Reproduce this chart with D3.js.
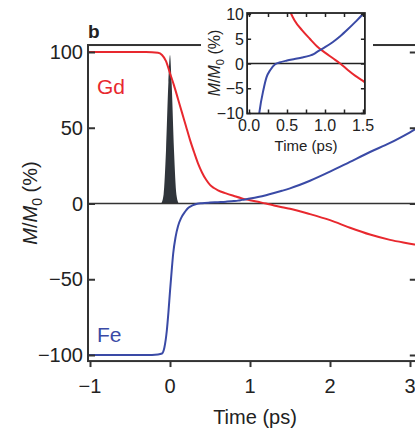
<!DOCTYPE html>
<html>
<head>
<meta charset="utf-8">
<script src="https://cdn.jsdelivr.net/npm/d3@7"></script>
<style>
  body { margin: 0; background: #fff; }
  svg text { font-family: "Liberation Sans", Arial, sans-serif; fill: #222; }
</style>
</head>
<body>
<svg id="chart" width="415" height="432"></svg>
<script>
// Gd sublattice magnetisation (%)
var gdTime = [-1.03, -0.3, -0.15, -0.1, -0.05, 0, 0.05, 0.1, 0.15, 0.2, 0.25, 0.3, 0.35, 0.4, 0.45, 0.5, 0.55, 0.6, 0.7, 0.8, 0.9, 1.0, 1.1, 1.2, 1.3, 1.4, 1.5, 1.75, 2.0, 2.25, 2.5, 2.75, 3.0, 3.1];
var gdValues = [100, 100, 99.5, 98, 94, 86, 78, 69, 60, 51, 42, 34, 26.5, 20.5, 15.8, 12.3, 10.2, 8.7, 6.7, 5, 3.4, 2.2, 1.1, 0, -1.3, -2.5, -3.5, -7, -11, -16, -20.5, -24, -26.5, -27.5];
// Fe sublattice magnetisation (%)
var feTime = [-1.03, -0.3, -0.15, -0.1, -0.07, -0.04, -0.02, 0, 0.02, 0.04, 0.07, 0.1, 0.14, 0.19, 0.23, 0.28, 0.34, 0.4, 0.5, 0.6, 0.7, 0.8, 0.85, 0.9, 1.0, 1.1, 1.2, 1.3, 1.4, 1.5, 1.75, 2.0, 2.25, 2.5, 2.75, 3.0, 3.1];
var feValues = [-100, -100, -99.6, -99, -95, -84, -72, -58, -45, -33, -22, -15, -9.5, -5.3, -2.8, -1.3, -0.2, 0.2, 0.6, 0.9, 1.2, 1.6, 1.9, 2.4, 3.3, 4.3, 5.5, 6.9, 8.4, 10, 15, 21, 27.5, 34, 40, 47, 50];
// pump pulse profile (arb., scaled to %)
var pulseTime = [-0.11, -0.08, -0.05, -0.02, 0, 0.02, 0.05, 0.08, 0.11];
var pulseValues = [0, 6, 35, 80, 98, 80, 35, 6, 0];

var mainXTicks = [-1, 0, 1, 2, 3];
var mainYTicks = [-100, -50, 0, 50, 100];
var insetXTicks = [0, 0.5, 1.0, 1.5];
var insetXMinor = [0.25, 0.75, 1.25];
var insetYTicks = [-10, -5, 0, 5, 10];

var RED = "#e8282e", BLUE = "#3a4aa6", AXIS = "#333";

var svg = d3.select("#chart");
var gd = gdTime.map(function(t, i) { return {t: t, v: gdValues[i]}; });
var fe = feTime.map(function(t, i) { return {t: t, v: feValues[i]}; });
var pulse = pulseTime.map(function(t, i) { return {t: t, v: pulseValues[i]}; });

// ---- main panel ----
var x = d3.scaleLinear().domain([-1, 3]).range([90, 410]);
var y = d3.scaleLinear().domain([-100, 100]).range([355, 52]);
var x0 = x(-1.025), x1 = x(3.085), yTop = y(104.6), yBot = y(-104);

svg.append("defs").append("clipPath").attr("id", "mainClip")
  .append("rect").attr("x", x0).attr("y", yTop).attr("width", x1 - x0).attr("height", yBot - yTop);

var plot = svg.append("g").attr("clip-path", "url(#mainClip)");

plot.append("path")
  .datum(pulse)
  .attr("fill", "#30353b")
  .attr("d", d3.area().x(function(d) { return x(d.t); }).y0(y(0)).y1(function(d) { return y(d.v); }).curve(d3.curveMonotoneX));

plot.append("line").attr("x1", x0).attr("x2", x1).attr("y1", y(0)).attr("y2", y(0))
  .attr("stroke", AXIS).attr("stroke-width", 1.5);

var line = d3.line().x(function(d) { return x(d.t); }).y(function(d) { return y(d.v); }).curve(d3.curveMonotoneX);
plot.append("path").datum(gd).attr("fill", "none").attr("stroke", RED).attr("stroke-width", 2).attr("d", line);
plot.append("path").datum(fe).attr("fill", "none").attr("stroke", BLUE).attr("stroke-width", 2).attr("d", line);

// frame
svg.append("rect").attr("x", x0).attr("y", yTop).attr("width", x1 - x0).attr("height", yBot - yTop)
  .attr("fill", "none").attr("stroke", AXIS).attr("stroke-width", 2);

// y axis: ticks inward
var yAxis = svg.append("g").attr("transform", "translate(" + x0 + ",0)")
  .call(d3.axisRight(y).tickValues(mainYTicks).tickSize(7).tickFormat(""));
yAxis.select(".domain").remove();
yAxis.selectAll("line").attr("stroke", AXIS).attr("stroke-width", 2);
var yAxisR = svg.append("g").attr("transform", "translate(" + x1 + ",0)")
  .call(d3.axisLeft(y).tickValues(mainYTicks).tickSize(7).tickFormat(""));
yAxisR.select(".domain").remove();
yAxisR.selectAll("line").attr("stroke", AXIS).attr("stroke-width", 2);

svg.selectAll(".ylab").data(mainYTicks).enter().append("text")
  .attr("x", 83).attr("y", function(d) { return y(d) + 7; })
  .attr("text-anchor", "end").attr("font-size", 20)
  .text(function(d) { return d < 0 ? "\u2212" + Math.abs(d) : d; });

// x axis: ticks outward
var xAxis = svg.append("g").attr("transform", "translate(0," + yBot + ")")
  .call(d3.axisBottom(x).tickValues(mainXTicks).tickSize(6).tickFormat(""));
xAxis.select(".domain").remove();
xAxis.selectAll("line").attr("stroke", AXIS).attr("stroke-width", 2);
svg.selectAll(".xlab").data(mainXTicks).enter().append("text")
  .attr("x", function(d) { return x(d); }).attr("y", 393)
  .attr("text-anchor", "middle").attr("font-size", 20)
  .text(function(d) { return d < 0 ? "\u2212" + Math.abs(d) : d; });

svg.append("text").attr("x", 255).attr("y", 424).attr("text-anchor", "middle").attr("font-size", 20).text("Time (ps)");

var yl = svg.append("text").attr("transform", "translate(37,203) rotate(-90)")
  .attr("text-anchor", "middle").attr("font-size", 20);
yl.append("tspan").attr("font-style", "italic").text("M");
yl.append("tspan").text("/");
yl.append("tspan").attr("font-style", "italic").text("M");
yl.append("tspan").attr("font-size", 14).attr("dy", 5).text("0");
yl.append("tspan").attr("dy", -5).text(" (%)");

svg.append("text").attr("x", 88).attr("y", 38).attr("font-size", 19).attr("font-weight", "bold").text("b");
svg.append("text").attr("x", 97).attr("y", 94).attr("font-size", 21).style("fill", RED).text("Gd");
svg.append("text").attr("x", 97).attr("y", 342).attr("font-size", 21).style("fill", BLUE).text("Fe");

// ---- inset ----
// white backing so the main top frame is interrupted behind the inset
svg.append("rect").attr("x", 201).attr("y", 0).attr("width", 172).attr("height", 60).attr("fill", "#fff");

var ix = d3.scaleLinear().domain([0, 1.5]).range([249, 363]);
var iy = d3.scaleLinear().domain([-10, 10]).range([113, 14]);
var ix0 = ix(-0.025), ix1 = ix(1.525), iyTop = iy(10.2), iyBot = iy(-10.1);

svg.select("defs").append("clipPath").attr("id", "insetClip")
  .append("rect").attr("x", ix0).attr("y", iyTop).attr("width", ix1 - ix0).attr("height", iyBot - iyTop);

svg.append("rect").attr("x", ix0).attr("y", iyTop).attr("width", ix1 - ix0).attr("height", iyBot - iyTop).attr("fill", "#fff");
var inset = svg.append("g").attr("clip-path", "url(#insetClip)");
inset.append("line").attr("x1", ix0).attr("x2", ix1).attr("y1", iy(0)).attr("y2", iy(0))
  .attr("stroke", "#222").attr("stroke-width", 1.3);
var iline = d3.line().x(function(d) { return ix(d.t); }).y(function(d) { return iy(d.v); }).curve(d3.curveMonotoneX);
inset.append("path").datum(gd).attr("fill", "none").attr("stroke", RED).attr("stroke-width", 2).attr("d", iline);
inset.append("path").datum(fe).attr("fill", "none").attr("stroke", BLUE).attr("stroke-width", 2).attr("d", iline);

svg.append("rect").attr("x", ix0).attr("y", iyTop).attr("width", ix1 - ix0).attr("height", iyBot - iyTop)
  .attr("fill", "none").attr("stroke", "#222").attr("stroke-width", 1.8);

var iTicksX = insetXTicks.concat(insetXMinor);
[[iyBot, d3.axisTop], [iyTop, d3.axisBottom]].forEach(function(p) {
  var g = svg.append("g").attr("transform", "translate(0," + p[0] + ")")
    .call(p[1](ix).tickValues(iTicksX).tickSize(4).tickFormat(""));
  g.select(".domain").remove();
  g.selectAll("line").attr("stroke", "#222").attr("stroke-width", 1.5);
});
[[ix0, d3.axisRight], [ix1, d3.axisLeft]].forEach(function(p) {
  var g = svg.append("g").attr("transform", "translate(" + p[0] + ",0)")
    .call(p[1](iy).tickValues(insetYTicks).tickSize(4).tickFormat(""));
  g.select(".domain").remove();
  g.selectAll("line").attr("stroke", "#222").attr("stroke-width", 1.5);
});

svg.selectAll(".iylab").data(insetYTicks).enter().append("text")
  .attr("x", 244).attr("y", function(d) { return iy(d) + 6; })
  .attr("text-anchor", "end").attr("font-size", 16)
  .text(function(d) { return d < 0 ? "\u2212" + Math.abs(d) : d; });
svg.selectAll(".ixlab").data(insetXTicks).enter().append("text")
  .attr("x", function(d) { return ix(d); }).attr("y", 131)
  .attr("text-anchor", "middle").attr("font-size", 16)
  .text(function(d) { return d.toFixed(1); });
svg.append("text").attr("x", 306).attr("y", 151).attr("text-anchor", "middle").attr("font-size", 15).text("Time (ps)");

var iyl = svg.append("text").attr("transform", "translate(220,63) rotate(-90)")
  .attr("text-anchor", "middle").attr("font-size", 16);
iyl.append("tspan").attr("font-style", "italic").text("M");
iyl.append("tspan").text("/");
iyl.append("tspan").attr("font-style", "italic").text("M");
iyl.append("tspan").attr("font-size", 11).attr("dy", 4).text("0");
iyl.append("tspan").attr("dy", -4).text(" (%)");
</script>
</body>
</html>
